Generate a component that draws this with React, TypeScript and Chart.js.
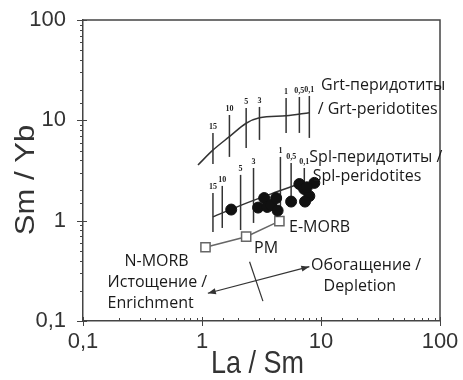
import React, { useEffect, useRef } from "react";
import { Chart, registerables } from "chart.js";

Chart.register(...registerables);

// ---- data ----
const grtCurveX = [0.925, 1.24, 1.7, 2.35, 3.04, 5.09, 7.98];
const grtCurveY = [3.59, 5.07, 6.88, 9.35, 10.6, 11.1, 11.9];

const grtBarX = [1.236, 1.7, 2.35, 3.04, 5.09, 6.58, 7.98];
const grtBarLow = [3.67, 4.32, 5.31, 6.38, 7.49, 7.49, 6.68];
const grtBarHigh = [7.49, 11.3, 13.3, 13.6, 16.7, 17.1, 17.5];
const grtBarLabels = ["15", "10", "5", "3", "1", "0,5", "0,1"];

const splCurveX = [1.236, 2.14, 3.81, 6.54];
const splCurveY = [1.09, 1.43, 1.85, 2.32];

const splBarX = [1.236, 1.48, 2.11, 2.71, 4.56, 5.61, 7.24];
const splBarLow = [0.771, 0.846, 0.807, 0.949, 1.37, 1.61, 2.02];
const splBarHigh = [1.89, 2.22, 2.86, 3.35, 4.32, 3.76, 3.35];
const splBarLabels = ["15", "10", "5", "3", "1", "0,5", "0,1"];

const sampleX = [1.76, 2.96, 3.33, 3.53, 3.81, 4.2, 4.32, 5.61, 6.58, 7.21, 7.98, 7.34, 8.79, 7.6];
const sampleY = [1.29, 1.35, 1.68, 1.37, 1.43, 1.68, 1.26, 1.55, 2.32, 2.07, 1.76, 1.55, 2.38, 2.15];

const refNames = ["N-MORB", "PM", "E-MORB"];
const refX = [1.07, 2.35, 4.47];
const refY = [0.543, 0.692, 0.99];

const arrowX = [1.12, 7.98];
const arrowY = [0.189, 0.348];
const crossX = [2.51, 3.25];
const crossY = [0.39, 0.158];

const noteTexts = [
  "Grt-перидотиты",
  "/ Grt-peridotites",
  "Spl-перидотиты /",
  "Spl-peridotites",
  "E-MORB",
  "PM",
  "N-MORB",
  "Истощение /",
  "Enrichment",
  "Обогащение /",
  "Depletion",
];
const noteX = [10.0, 9.38, 7.98, 8.52, 5.39, 2.74, 0.223, 0.161, 0.161, 8.25, 10.5];
const noteY = [22.5, 12.7, 4.22, 2.75, 0.859, 0.534, 0.396, 0.241, 0.151, 0.362, 0.22];

const axisMin = 0.1;
const axisMax = 100;
const xTitle = "La / Sm";
const yTitle = "Sm / Yb";

const isMajor = (v: number) => {
  const l = Math.log10(v);
  return Math.abs(l - Math.round(l)) < 1e-6;
};
const fmt = (v: number) => String(v).replace(".", ",");

const LINE = "#333";

const decor = {
  id: "decor",
  afterDatasetsDraw(chart: any) {
    const { ctx, chartArea: a, scales } = chart;
    const xs = scales.x;
    const ys = scales.y;
    ctx.save();
    // box top/right
    ctx.strokeStyle = "#444";
    ctx.lineWidth = 1.5;
    ctx.beginPath();
    ctx.moveTo(a.left, a.top);
    ctx.lineTo(a.right, a.top);
    ctx.lineTo(a.right, a.bottom);
    ctx.stroke();
    // axis ticks
    ctx.lineWidth = 1;
    ctx.beginPath();
    xs.ticks.forEach((t: any) => {
      const px = Math.round(xs.getPixelForValue(t.value)) + 0.5;
      if (isMajor(t.value)) {
        ctx.moveTo(px, a.bottom - 4);
        ctx.lineTo(px, a.bottom + 5);
      } else {
        ctx.moveTo(px, a.bottom - 3);
        ctx.lineTo(px, a.bottom);
      }
    });
    ys.ticks.forEach((t: any) => {
      const py = Math.round(ys.getPixelForValue(t.value)) + 0.5;
      if (isMajor(t.value)) {
        ctx.moveTo(a.left - 6, py);
        ctx.lineTo(a.left + 4, py);
      } else {
        ctx.moveTo(a.left - 3, py);
        ctx.lineTo(a.left, py);
      }
    });
    ctx.stroke();

    // bar labels
    ctx.fillStyle = "#222";
    ctx.font = "bold 8px 'Liberation Serif'";
    ctx.textAlign = "center";
    ctx.textBaseline = "bottom";
    grtBarLabels.forEach((s, i) => {
      ctx.fillText(s, xs.getPixelForValue(grtBarX[i]), ys.getPixelForValue(grtBarHigh[i]) - 2);
    });
    splBarLabels.forEach((s, i) => {
      ctx.fillText(s, xs.getPixelForValue(splBarX[i]), ys.getPixelForValue(splBarHigh[i]) - 2);
    });

    // notes
    ctx.font = "16px 'Open Sans'";
    ctx.fillStyle = "#1a1a1a";
    ctx.textAlign = "left";
    ctx.textBaseline = "middle";
    noteTexts.forEach((s, i) => {
      ctx.fillText(s, xs.getPixelForValue(noteX[i]), ys.getPixelForValue(noteY[i]));
    });

    // arrowheads
    const p0 = { x: xs.getPixelForValue(arrowX[0]), y: ys.getPixelForValue(arrowY[0]) };
    const p1 = { x: xs.getPixelForValue(arrowX[1]), y: ys.getPixelForValue(arrowY[1]) };
    const head = (tip: any, from: any) => {
      const ang = Math.atan2(tip.y - from.y, tip.x - from.x);
      const L = 8, W = 3;
      ctx.beginPath();
      ctx.moveTo(tip.x, tip.y);
      ctx.lineTo(tip.x - L * Math.cos(ang) + W * Math.sin(ang), tip.y - L * Math.sin(ang) - W * Math.cos(ang));
      ctx.lineTo(tip.x - L * Math.cos(ang) - W * Math.sin(ang), tip.y - L * Math.sin(ang) + W * Math.cos(ang));
      ctx.closePath();
      ctx.fillStyle = "#333";
      ctx.fill();
    };
    head(p0, p1);
    head(p1, p0);

    // axis titles
    ctx.fillStyle = "#333";
    ctx.font = "27px 'Liberation Sans'";
    ctx.textAlign = "center";
    ctx.textBaseline = "middle";
    ctx.save();
    ctx.translate((a.left + a.right) / 2 - 4, 364);
    ctx.scale(1, 1.15);
    ctx.fillText(xTitle, 0, 0);
    ctx.restore();
    ctx.save();
    ctx.translate(27, 180);
    ctx.rotate(-Math.PI / 2);
    ctx.scale(1.15, 1);
    ctx.fillText(yTitle, 0, 0);
    ctx.restore();

    ctx.restore();
  },
};

function seg(xa: number[], ya: number[], extra: any = {}) {
  return {
    type: "line",
    data: xa.map((x, i) => ({ x, y: ya[i] })),
    borderColor: LINE,
    borderWidth: 1.5,
    pointRadius: 0,
    fill: false,
    order: 5,
    ...extra,
  };
}

export default function App() {
  const ref = useRef<HTMLCanvasElement>(null);
  useEffect(() => {
    document.body.style.margin = "0";
    const datasets: any[] = [];
    datasets.push({
      type: "scatter",
      data: sampleX.map((x, i) => ({ x, y: sampleY[i] })),
      backgroundColor: "#111",
      borderColor: "#111",
      pointRadius: 5.5,
      order: 0,
    });
    datasets.push({
      type: "line",
      label: refNames.join(", "),
      data: refX.map((x, i) => ({ x, y: refY[i] })),
      borderColor: "#666",
      borderWidth: 1.5,
      pointStyle: "rect",
      pointRadius: 6.5,
      pointBorderWidth: 1.5,
      pointBackgroundColor: "#fff",
      pointBorderColor: "#666",
      order: 1,
    });
    datasets.push(seg(grtCurveX, grtCurveY, { cubicInterpolationMode: "monotone" }));
    datasets.push(seg(splCurveX, splCurveY, { cubicInterpolationMode: "monotone" }));
    grtBarX.forEach((x, i) => datasets.push(seg([x, x], [grtBarLow[i], grtBarHigh[i]])));
    splBarX.forEach((x, i) => datasets.push(seg([x, x], [splBarLow[i], splBarHigh[i]])));
    datasets.push(seg(arrowX, arrowY, { borderWidth: 1.2 }));
    datasets.push(seg(crossX, crossY, { borderWidth: 1.2 }));

    const chart = new Chart(ref.current as HTMLCanvasElement, {
      type: "scatter",
      data: { datasets },
      options: {
        responsive: false,
        animation: false,
        layout: { padding: { top: 20, right: 23, left: 0, bottom: 0 } },
        plugins: { legend: { display: false }, tooltip: { enabled: false } },
        scales: {
          x: {
            type: "logarithmic",
            min: axisMin,
            max: axisMax,
            grid: { display: false },
            border: { display: true, color: "#444", width: 1.5 },
            ticks: {
              autoSkip: false,
              maxRotation: 0,
              padding: 0,
              color: "#333",
              font: { family: "'Liberation Sans'", size: 22 },
              callback: (v: any) => (isMajor(Number(v)) ? fmt(Number(v)) : ""),
            },
            afterFit: (s: any) => {
              s.height = 59;
              s.paddingLeft = 0;
              s.paddingRight = 0;
            },
          },
          y: {
            type: "logarithmic",
            min: axisMin,
            max: axisMax,
            grid: { display: false },
            border: { display: true, color: "#444", width: 1.5 },
            ticks: {
              autoSkip: false,
              padding: 9,
              color: "#333",
              font: { family: "'Liberation Sans'", size: 22 },
              callback: (v: any) => (isMajor(Number(v)) ? fmt(Number(v)) : ""),
            },
            afterFit: (s: any) => {
              s.width = 83;
              s.paddingTop = 0;
              s.paddingBottom = 0;
            },
          },
        },
      },
      plugins: [decor],
    } as any);
    return () => chart.destroy();
  }, []);
  return (
    <div style={{ width: 463, height: 380, background: "#fff" }}>
      <canvas ref={ref} width={463} height={380} />
    </div>
  );
}
